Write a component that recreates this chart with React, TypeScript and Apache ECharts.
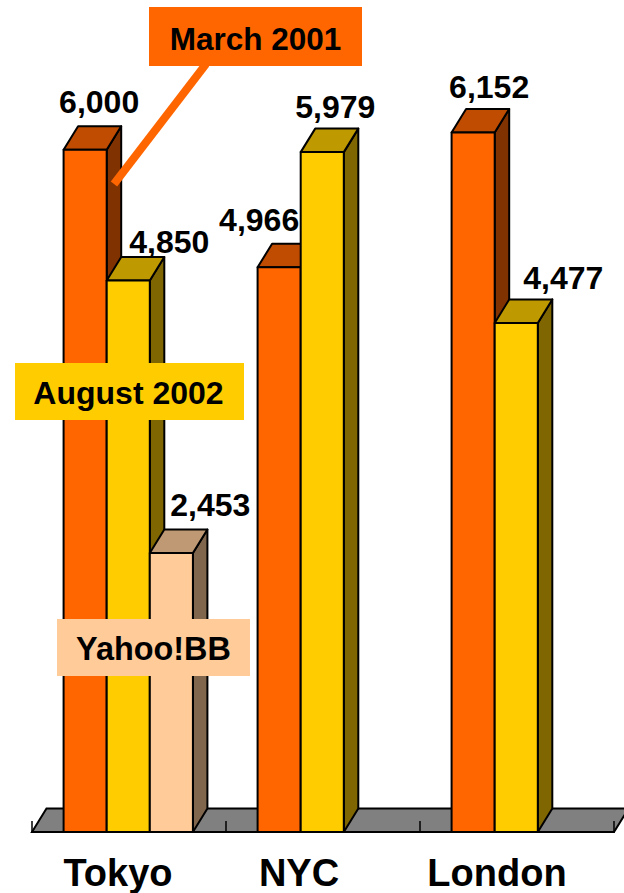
import React, { useEffect, useRef } from "react";
import * as echarts from "echarts";

const categories = ["Tokyo", "NYC", "London"];
const seriesNames = ["March 2001", "August 2002", "Yahoo!BB"];
const march2001 = [6000, 4966, 6152];
const august2002 = [4850, 5979, 4477];
const yahooBB = [2453];

const FONT = '"Liberation Sans", Arial, sans-serif';
const PALETTE = [
  { front: "#FF6600", top: "#BF4C00", side: "#803300" },
  { front: "#FFCC00", top: "#BF9900", side: "#806600" },
  { front: "#FFCC99", top: "#BF9973", side: "#80664D" },
];
const DEPTH_X = 14.5;
const DEPTH_Y = 23.5;
// hand-placed label nudges from the bar's front-top centre, as in the original slide
const LABEL_NUDGE: number[][][] = [
  [[14, -48], [-20, -47], [16, -45]],
  [[41, -38], [13, -45], [47, -45]],
  [[39, -48]],
];
const CATEGORY_NUDGE = [-11, -24, -20];

function toPairs(values: number[]) {
  return values.map((v, i) => [i, v]);
}

function barRenderer(slot: number) {
  return (_params: any, api: any) => {
    const cat = api.value(0);
    const val = api.value(1);
    const [cx, yTop] = api.coord([cat, val]);
    const [, yBase] = api.coord([cat, 0]);
    const band = api.size([1, 0])[0];
    const w = band * 0.2222;
    const x0 = cx - 0.75 + (slot - 1.5) * w;
    const x1 = x0 + w;
    const c = PALETTE[slot];
    const stroke = { stroke: "#000", lineWidth: 2, lineJoin: "round" };
    const nudge = LABEL_NUDGE[slot][cat];
    return {
      type: "group",
      children: [
        {
          type: "polygon",
          shape: { points: [[x1, yTop], [x1 + DEPTH_X, yTop - DEPTH_Y], [x1 + DEPTH_X, yBase - DEPTH_Y], [x1, yBase]] },
          style: { fill: c.side, ...stroke },
        },
        {
          type: "polygon",
          shape: { points: [[x0, yTop], [x0 + DEPTH_X, yTop - DEPTH_Y], [x1 + DEPTH_X, yTop - DEPTH_Y], [x1, yTop]] },
          style: { fill: c.top, ...stroke },
        },
        {
          type: "rect",
          shape: { x: x0, y: yTop, width: w, height: yBase - yTop },
          style: { fill: c.front, ...stroke },
        },
        {
          type: "text",
          z2: 10,
          style: {
            text: val.toLocaleString("en-US"),
            x: (x0 + x1) / 2 + nudge[0],
            y: yTop + nudge[1],
            align: "center",
            verticalAlign: "middle",
            fill: "#000",
            font: `bold 32px ${FONT}`,
          },
        },
      ],
    };
  };
}

function floorRenderer(params: any, api: any) {
  const { x, width } = params.coordSys;
  const [, yBase] = api.coord([0, 0]);
  return {
    type: "polygon",
    shape: {
      points: [[x, yBase], [x + DEPTH_X, yBase - DEPTH_Y], [x + width + DEPTH_X, yBase - DEPTH_Y], [x + width, yBase]],
    },
    style: { fill: "#808080", stroke: "#000", lineWidth: 2 },
  };
}

function callout(name: string, fill: string, x: number, y: number, width: number, height: number, fontSize: number, textDx: number, textDy: number) {
  return {
    type: "group",
    z: 100,
    children: [
      { type: "rect", z: 100, shape: { x, y, width, height }, style: { fill } },
      {
        type: "text",
        z: 101,
        style: {
          text: name,
          x: x + width / 2 + textDx,
          y: y + height / 2 + textDy,
          align: "center",
          verticalAlign: "middle",
          fill: "#000",
          font: `bold ${fontSize}px ${FONT}`,
        },
      },
    ],
  };
}

export default function App() {
  const ref = useRef<HTMLDivElement>(null);
  useEffect(() => {
    const chart = echarts.init(ref.current!, undefined, { renderer: "svg" });
    chart.setOption({
      animation: false,
      backgroundColor: "#fff",
      grid: { left: 32, right: 10, top: 36, bottom: 61 },
      xAxis: {
        type: "category",
        z: 2,
        data: categories.map((value, i) => ({
          value,
          textStyle: {
            padding: CATEGORY_NUDGE[i] < 0 ? [0, -2 * CATEGORY_NUDGE[i], 0, 0] : [0, 0, 0, 2 * CATEGORY_NUDGE[i]],
          },
        })),
        axisLine: { lineStyle: { color: "#000", width: 2 } },
        axisTick: { show: true, inside: true, length: 11, lineStyle: { color: "#000", width: 1.5 } },
        axisLabel: { color: "#000", fontFamily: FONT, fontWeight: "bold", fontSize: 38, margin: 22, interval: 0 },
      },
      yAxis: { type: "value", min: 0, max: 7000, show: false },
      series: [
        { type: "custom", name: "Floor", z: 1, clip: false, data: [[0, 0]], encode: { x: 0, y: 1 }, renderItem: floorRenderer },
        { type: "custom", name: seriesNames[0], z: 3, clip: false, data: toPairs(march2001), encode: { x: 0, y: 1 }, renderItem: barRenderer(0) },
        { type: "custom", name: seriesNames[1], z: 4, clip: false, data: toPairs(august2002), encode: { x: 0, y: 1 }, renderItem: barRenderer(1) },
        { type: "custom", name: seriesNames[2], z: 5, clip: false, data: toPairs(yahooBB), encode: { x: 0, y: 1 }, renderItem: barRenderer(2) },
      ],
      graphic: [
        {
          type: "line",
          z: 99,
          shape: { x1: 206, y1: 64, x2: 114, y2: 184 },
          style: { stroke: PALETTE[0].front, lineWidth: 8 },
        },
        callout(seriesNames[0], PALETTE[0].front, 149, 7, 213, 59, 31.5, 0, 2),
        callout(seriesNames[1], PALETTE[1].front, 15, 363, 229, 57, 32, -1, 1),
        callout(seriesNames[2], PALETTE[2].front, 57, 619, 193, 57, 32.4, 0, 1),
      ],
    });
    return () => chart.dispose();
  }, []);
  return <div ref={ref} style={{ position: "absolute", left: 0, top: 0, width: 624, height: 893 }} />;
}
